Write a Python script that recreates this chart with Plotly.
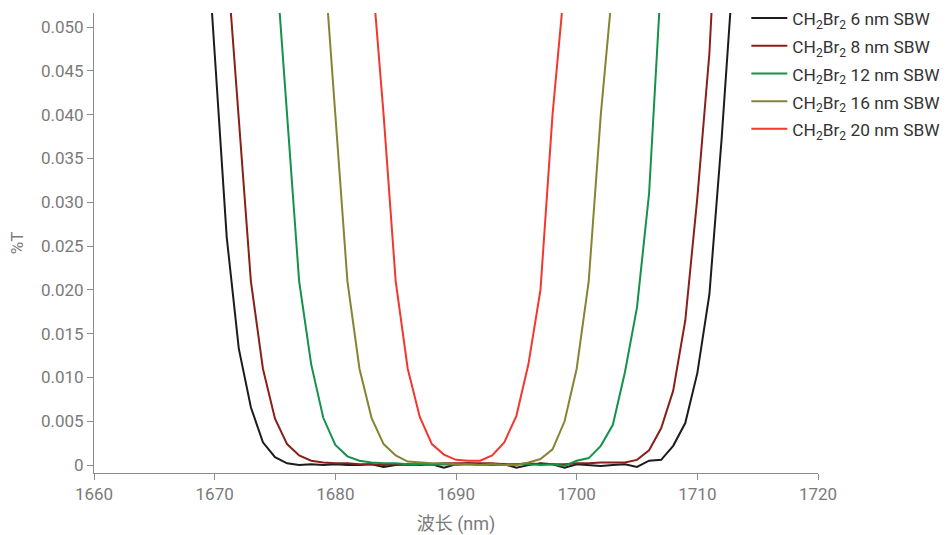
import plotly.graph_objects as go

labels = [
    "CH<sub>2</sub>Br<sub>2</sub> 6 nm SBW",
    "CH<sub>2</sub>Br<sub>2</sub> 8 nm SBW",
    "CH<sub>2</sub>Br<sub>2</sub> 12 nm SBW",
    "CH<sub>2</sub>Br<sub>2</sub> 16 nm SBW",
    "CH<sub>2</sub>Br<sub>2</sub> 20 nm SBW",
]
colors = ["#1c1c1c", "#8a1f1a", "#13924a", "#848432", "#f3372d"]

# 6 nm SBW: 1668 ... 1715
x6 = list(range(1668, 1716))
sbw6 = [0.12, 0.068, 0.047, 0.026, 0.0133, 0.0066, 0.0026, 0.0009, 0.0002, 0.0000,
        0.0001, 0.0000, 0.0001, 0.0000, 0.0000, 0.0001, -0.0002, 0.0000, 0.0001, 0.0000,
        0.0001, -0.0003, 0.0001, 0.0002, 0.0001, 0.0000, 0.0001, -0.0003, 0.0000, 0.0002,
        0.0001, -0.0003, 0.0001, 0.0000, -0.0001, 0.0000, 0.0001, -0.0002, 0.0005, 0.0006,
        0.0022, 0.0048, 0.0105, 0.0195, 0.0370, 0.0570, 0.10, 0.15]
# 8 nm SBW: 1668 ... 1715
x8 = list(range(1668, 1716))
sbw8 = [0.20, 0.15, 0.10, 0.058, 0.040, 0.021, 0.011, 0.0053, 0.0024, 0.0011,
        0.0005, 0.0003, 0.0002, 0.0002, 0.0001, 0.0001, 0.0000, 0.0001, 0.0000, 0.0001,
        0.0001, 0.0002, 0.0002, 0.0002, 0.0002, 0.0002, 0.0001, 0.0001, 0.0002, 0.0001,
        0.0001, 0.0001, 0.0002, 0.0002, 0.0003, 0.0003, 0.0003, 0.0006, 0.0017, 0.0042,
        0.0085, 0.0165, 0.0305, 0.047, 0.070, 0.10, 0.15, 0.20]
# 12 nm SBW: 1674 ... 1708
x12 = list(range(1674, 1709))
sbw12 = [0.080, 0.059, 0.040, 0.021, 0.0115, 0.0054, 0.0023, 0.0010, 0.0005, 0.0003,
         0.0002, 0.0002, 0.0001, 0.0001, 0.0000, 0.0001, 0.0000, 0.0001, 0.0000, 0.0001,
         0.0000, 0.0001, 0.0001, 0.0000, 0.0001, -0.0001, 0.0005, 0.0008, 0.0022, 0.0046,
         0.0106, 0.018, 0.031, 0.052, 0.080]
# 16 nm SBW: 1678 ... 1704
x16 = list(range(1678, 1705))
sbw16 = [0.090, 0.059, 0.040, 0.021, 0.011, 0.0054, 0.0024, 0.0011, 0.0004, 0.0003,
         0.0002, 0.0002, 0.0001, 0.0001, 0.0000, 0.0001, 0.0000, 0.0000, 0.0003, 0.0007,
         0.0018, 0.0050, 0.0110, 0.021, 0.040, 0.055, 0.090]
# 20 nm SBW: 1682 ... 1700
x20 = list(range(1682, 1701))
sbw20 = [0.090, 0.057, 0.040, 0.021, 0.011, 0.0055, 0.0024, 0.0012, 0.0006, 0.0005,
         0.0005, 0.0011, 0.0026, 0.0056, 0.0115, 0.020, 0.040, 0.055, 0.090]

xs = [x6, x8, x12, x16, x20]
series = [sbw6, sbw8, sbw12, sbw16, sbw20]

y_ticks = [0, 0.005, 0.010, 0.015, 0.020, 0.025, 0.030, 0.035, 0.040, 0.045, 0.050]
y_tick_text = ["0", "0.005", "0.010", "0.015", "0.020", "0.025", "0.030", "0.035",
               "0.040", "0.045", "0.050"]
x_ticks = [1660, 1670, 1680, 1690, 1700, 1710, 1720]

fig = go.Figure()
for lab, col, xv, vals in zip(labels, colors, xs, series):
    fig.add_trace(go.Scatter(x=xv, y=vals, mode="lines",
                             name='<span style="font-size:17.3px">' + lab + '</span>',
                             line=dict(color=col, width=2)))

axis_col = "#8c8c8c"
tick_font = dict(family="Roboto, Noto Sans CJK SC, sans-serif", size=17, color="#7a7a7a")

fig.update_layout(
    width=951, height=535,
    margin=dict(l=94, r=133, t=13, b=62, autoexpand=False),
    paper_bgcolor="white", plot_bgcolor="white",
    font=dict(family="Roboto, Noto Sans CJK SC, sans-serif", size=17, color="#333333"),
    showlegend=True,
    legend=dict(x=0.901, y=1.030, xanchor="left", yanchor="top",
                font=dict(size=19, color="#333333"), bgcolor="rgba(0,0,0,0)",
                tracegroupgap=0, itemwidth=36),
    xaxis=dict(range=[1660, 1720], tickvals=x_ticks, ticks="outside", ticklen=6,
               tickcolor=axis_col, showline=True, linecolor=axis_col, linewidth=1,
               showgrid=False, zeroline=False, tickfont=tick_font,
               title=dict(text="波长 (nm)", font=dict(size=18, color="#7a7a7a"), standoff=16)),
    yaxis=dict(range=[-0.0009, 0.0516], tickvals=y_ticks, ticktext=y_tick_text,
               ticks="outside", ticklen=6, tickcolor=axis_col, showline=True,
               linecolor=axis_col, linewidth=1, showgrid=False, zeroline=False,
               tickfont=tick_font,
               title=dict(text="%T", font=dict(size=17, color="#7a7a7a"), standoff=12)),
)

fig.write_html("out.html")
